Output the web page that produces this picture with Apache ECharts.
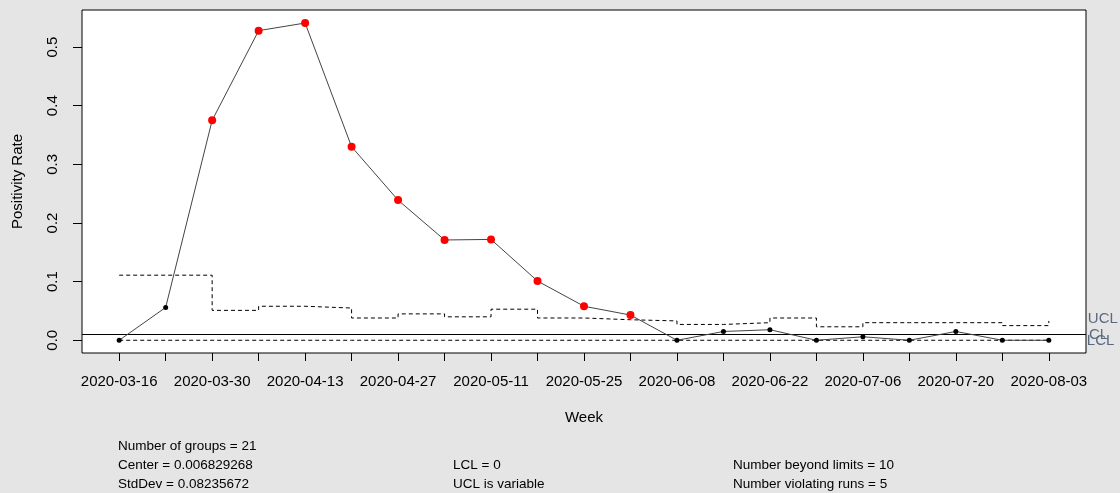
<!DOCTYPE html>
<html>
<head>
<meta charset="utf-8">
<script src="https://cdn.jsdelivr.net/npm/echarts@6/dist/echarts.min.js"></script>
<style>
  html, body { margin: 0; padding: 0; background: #e5e5e5; }
  #chart { width: 1120px; height: 493px; }
</style>
</head>
<body>
<div id="chart"></div>
<script>
// weekly groups
var weeks = ['2020-03-16', '2020-03-23', '2020-03-30', '2020-04-06', '2020-04-13', '2020-04-20',
  '2020-04-27', '2020-05-04', '2020-05-11', '2020-05-18', '2020-05-25', '2020-06-01',
  '2020-06-08', '2020-06-15', '2020-06-22', '2020-06-29', '2020-07-06', '2020-07-13',
  '2020-07-20', '2020-07-27', '2020-08-03'];
var rate = [0, 0.056, 0.375, 0.528, 0.541, 0.330, 0.239, 0.171, 0.172, 0.101, 0.058,
  0.043, 0, 0.015, 0.018, 0, 0.006, 0, 0.015, 0, 0];
var ucl = [0.111, 0.111, 0.051, 0.058, 0.055, 0.038, 0.045, 0.040, 0.053, 0.038, 0.035,
  0.033, 0.027, 0.030, 0.038, 0.023, 0.030, 0.030, 0.030, 0.025, 0.033];
var lcl = [0, 0, 0, 0, 0, 0, 0, 0, 0, 0, 0, 0, 0, 0, 0, 0, 0, 0, 0, 0, 0];
var center = 0.006829268;
var yTicks = [0, 0.1, 0.2, 0.3, 0.4, 0.5];

var chart = echarts.init(document.getElementById('chart'));

var idx = weeks.map(function (d, i) { return i; });
var evenIdx = idx.filter(function (i) { return i % 2 === 0; });

function pairs(arr) {
  return arr.map(function (v, i) { return [i, v]; });
}

var txt = { fontFamily: 'Liberation Sans, Arial, sans-serif', fontSize: 13.5, fill: '#000' };
function stat(x, y, s) {
  return { type: 'text', left: x, top: y, style: Object.assign({ text: s }, txt), silent: true };
}

var option = {
  backgroundColor: '#e5e5e5',
  animation: false,
  textStyle: { fontFamily: 'Liberation Sans, Arial, sans-serif' },
  grid: {
    left: 82, right: 34, top: 10, bottom: 140,
    show: true, backgroundColor: '#fff', borderColor: '#000', borderWidth: 1
  },
  xAxis: {
    type: 'value', min: -0.8, max: 20.8,
    splitLine: { show: false },
    axisLine: { show: false, onZero: false },
    axisTick: { show: true, length: 8, lineStyle: { color: '#000' }, customValues: idx },
    axisLabel: {
      customValues: evenIdx, margin: 21, color: '#000', fontSize: 15,
      formatter: function (v) { return weeks[Math.round(v)]; }
    },
    name: 'Week', nameLocation: 'middle', nameGap: 57,
    nameTextStyle: { color: '#000', fontSize: 15 }
  },
  yAxis: {
    type: 'value', min: -0.0217, max: 0.5632,
    splitLine: { show: false },
    axisLine: { show: false, onZero: false },
    axisTick: { show: true, length: 9, lineStyle: { color: '#000' }, customValues: yTicks },
    axisLabel: {
      customValues: yTicks, rotate: 90, margin: 22, color: '#000', fontSize: 15,
      formatter: function (v) { return v.toFixed(1); }
    },
    name: 'Positivity Rate', nameLocation: 'middle', nameGap: 57, nameRotate: 90,
    nameTextStyle: { color: '#000', fontSize: 15 }
  },
  series: [
    {
      name: 'LCL', type: 'line', data: pairs(lcl), symbol: 'none',
      lineStyle: { color: '#000', width: 1, type: [4, 3] },
      endLabel: { show: true, formatter: 'LCL', distance: 38, color: '#5b6a80', fontSize: 15, offset: [0, 1] },
      markLine: {
        silent: true, symbol: 'none',
        lineStyle: { color: '#000', width: 1, type: 'solid' },
        label: { show: true, position: 'end', formatter: 'CL', distance: 3, color: '#5b6a80', fontSize: 15 },
        data: [{ yAxis: center }]
      }
    },
    {
      name: 'UCL', type: 'line', data: pairs(ucl), symbol: 'none', step: 'end',
      lineStyle: { color: '#000', width: 1, type: [4, 3] },
      endLabel: { show: true, formatter: 'UCL', distance: 39, color: '#5b6a80', fontSize: 15, offset: [0, -2] }
    },
    {
      name: 'p', type: 'line', data: pairs(rate), symbol: 'circle',
      symbolSize: function (v, p) { return v[1] > ucl[p.dataIndex] ? 8 : 5; },
      lineStyle: { color: '#444', width: 1 },
      itemStyle: {
        color: function (p) { return p.value[1] > ucl[p.dataIndex] ? '#ff0000' : '#000'; }
      },
      z: 5
    }
  ],
  graphic: [
    stat(118, 439, 'Number of groups = 21'),
    stat(118, 458, 'Center = 0.006829268'),
    stat(118, 477, 'StdDev = 0.08235672'),
    stat(453, 458, 'LCL = 0'),
    stat(453, 477, 'UCL is variable'),
    stat(733, 458, 'Number beyond limits = 10'),
    stat(733, 477, 'Number violating runs = 5')
  ]
};

chart.setOption(option);
</script>
</body>
</html>
